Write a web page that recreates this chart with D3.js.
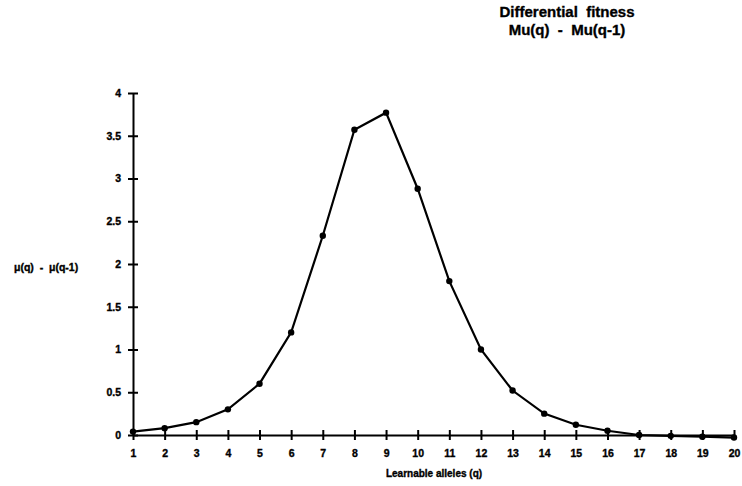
<!DOCTYPE html>
<html><head><meta charset="utf-8">
<script src="https://cdn.jsdelivr.net/npm/d3@7"></script>
<style>body{margin:0;background:#fff}svg{display:block}text{font-family:"Liberation Sans",Arial,sans-serif;font-weight:bold;fill:#000;stroke:#000;stroke-width:0.35px}</style>
</head><body>
<svg id="c" width="742" height="486"></svg>
<script>
const qValues = [1,2,3,4,5,6,7,8,9,10,11,12,13,14,15,16,17,18,19,20];
const muDiff = [0.04,0.08,0.15,0.30,0.60,1.20,2.33,3.57,3.77,2.88,1.80,1.00,0.52,0.25,0.12,0.05,0.00,-0.01,-0.02,-0.03];
const yTicks = [0,0.5,1,1.5,2,2.5,3,3.5,4];
const yTickLabels = ["0","0.5","1","1.5","2","2.5","3","3.5","4"];
const titleLines = ["Differential  fitness","Mu(q)  -  Mu(q-1)"];
const xTitle = "Learnable alleles (q)";
const yTitle = "\u03bc(q)  -  \u03bc(q-1)";

const svg = d3.select("#c");
const x = d3.scaleLinear().domain([1,20]).range([133,734]);
const y = d3.scaleLinear().domain([0,4]).range([435,93]);

// title
svg.selectAll(".title").data(titleLines).enter().append("text")
  .attr("x",567).attr("y",(d,i)=>17+i*18).attr("text-anchor","middle")
  .style("font-size","15px").style("white-space","pre").text(d=>d);

// y axis
const yAxis = d3.axisLeft(y).tickValues(yTicks).tickFormat((d,i)=>yTickLabels[i]).tickSize(0).tickPadding(12);
const gy = svg.append("g").attr("transform","translate(133,0)").call(yAxis);
gy.select(".domain").attr("stroke","#000").attr("stroke-width",2);
gy.selectAll("text").style("font-size","10.5px").style("font-family","Liberation Sans, Arial").style("font-weight","bold");
gy.selectAll(".tick").append("line").attr("x1",-5).attr("x2",5).attr("stroke","#000").attr("stroke-width",2);

// x axis
const xAxis = d3.axisBottom(x).tickValues(qValues).tickFormat(d3.format("d")).tickSize(0).tickPadding(15);
const gx = svg.append("g").attr("transform","translate(0,435)").call(xAxis);
gx.select(".domain").attr("stroke","#000").attr("stroke-width",2);
gx.selectAll("text").style("font-size","10.5px").style("font-family","Liberation Sans, Arial").style("font-weight","bold");
gx.selectAll(".tick").append("line").attr("y1",-5).attr("y2",5).attr("stroke","#000").attr("stroke-width",2);

// axis titles
svg.append("text").attr("x",434).attr("y",477).attr("text-anchor","middle").style("font-size","10px").text(xTitle);
svg.append("text").attr("x",14).attr("y",271).style("font-size","10.5px").style("white-space","pre").text(yTitle);

// line
const pts = qValues.map((q,i)=>({q, v: muDiff[i]}));
svg.append("path").datum(pts)
  .attr("d", d3.line().x(d=>x(d.q)).y(d=>y(d.v)))
  .attr("fill","none").attr("stroke","#000").attr("stroke-width",2.2);
svg.selectAll(".pt").data(pts).enter().append("circle")
  .attr("cx",d=>x(d.q)).attr("cy",d=>y(d.v)).attr("r",3.2).attr("fill","#000");
</script>
</body></html>
